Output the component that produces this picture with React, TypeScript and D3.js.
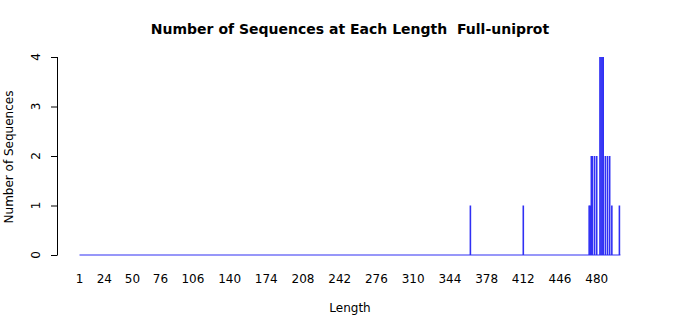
import React from "react";
import * as d3 from "d3";

const lengths = [363, 412, 473, 474, 475, 476, 478, 480, 483, 484, 485, 486, 488, 490, 492, 494, 501];
const counts = [1, 1, 1, 1, 2, 2, 2, 2, 4, 4, 4, 4, 2, 2, 2, 1, 1];
const xTicks = [1, 24, 50, 76, 106, 140, 174, 208, 242, 276, 310, 344, 378, 412, 446, 480];
const yTicks = [0, 1, 2, 3, 4];
const minLength = 1;
const maxLength = 501;

export default function App() {
  const W = 700, H = 315;
  const x = d3.scaleLinear().domain([minLength, maxLength]).range([79.5, 619.4]);
  const y = d3.scaleLinear().domain([0, 4]).range([255, 57]);
  const font = "DejaVu Sans, sans-serif";
  const blue = "#3030f4";
  return (
    <svg width={W} height={H} style={{ position: "absolute", left: 0, top: 0, background: "#fff" }} fontFamily={font}>
      <rect width={W} height={H} fill="#fff" />
      <text x={350} y={34} textAnchor="middle" fontWeight="bold" fontSize={14} style={{ whiteSpace: "pre" }}>
        {"Number of Sequences at Each Length\u00a0 Full-uniprot"}
      </text>
      {/* baseline */}
      <line x1={x(minLength)} x2={x(maxLength) + 1} y1={y(0)} y2={y(0)} stroke={blue} strokeWidth={1.2} />
      {lengths.map((L, i) => (
        <line key={L} x1={x(L)} x2={x(L)} y1={y(0)} y2={y(counts[i])} stroke={blue} strokeWidth={1.6} />
      ))}
      {/* y axis */}
      <line x1={57.5} x2={57.5} y1={y(4)} y2={y(0)} stroke="#000" />
      {yTicks.map((t) => (
        <g key={t}>
          <line x1={51} x2={57.5} y1={y(t) + 0.5} y2={y(t) + 0.5} stroke="#000" />
          <text transform={`translate(40,${y(t)}) rotate(-90)`} textAnchor="middle" fontSize={12}>{t}</text>
        </g>
      ))}
      <text transform={`translate(13,157) rotate(-90)`} textAnchor="middle" fontSize={12}>Number of Sequences</text>
      {xTicks.map((t) => (
        <text key={t} x={x(t)} y={283} textAnchor="middle" fontSize={12}>{t}</text>
      ))}
      <text x={350} y={312} textAnchor="middle" fontSize={12}>Length</text>
    </svg>
  );
}
